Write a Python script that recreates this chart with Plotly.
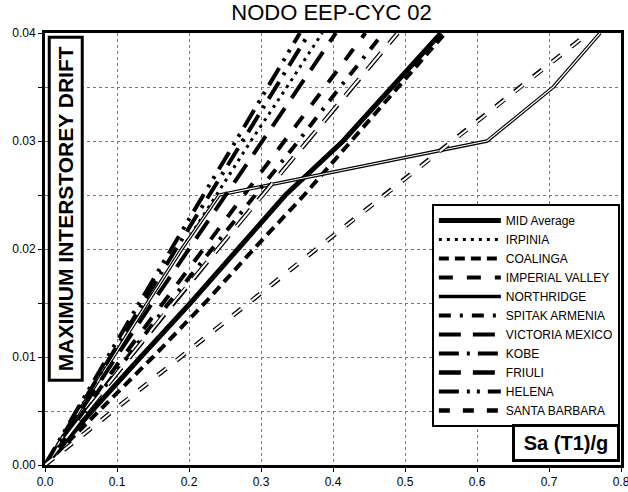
import plotly.graph_objects as go

# Drift levels (y) and spectral acceleration Sa(T1)/g (x) for each record
drift = [0, 0.005, 0.01, 0.015, 0.02, 0.025, 0.03, 0.035, 0.04]

sa_mid_average = [0, 0.065, 0.133, 0.202, 0.268, 0.334, 0.414, 0.482, 0.55]
sa_irpinia = [0, 0.046, 0.094, 0.142, 0.19, 0.238, 0.286, 0.336, 0.385]
sa_coalinga = [0, 0.075, 0.15, 0.222, 0.29, 0.36, 0.425, 0.49, 0.556]
sa_imperial_valley = [0, 0.054, 0.108, 0.164, 0.22, 0.276, 0.332, 0.388, 0.445]
sa_northridge = [0, 0.047, 0.094, 0.142, 0.19, 0.242, 0.614, 0.706, 0.771]
sa_spitak = [0, 0.057, 0.114, 0.172, 0.232, 0.292, 0.352, 0.41, 0.47]
sa_victoria = [0, 0.049, 0.099, 0.149, 0.2, 0.25, 0.302, 0.353, 0.404]
sa_kobe = [0, 0.045, 0.09, 0.136, 0.182, 0.228, 0.274, 0.32, 0.367]
sa_friuli = [0, 0.058, 0.118, 0.178, 0.24, 0.302, 0.364, 0.427, 0.49]
sa_helena = [0, 0.043, 0.087, 0.131, 0.175, 0.22, 0.265, 0.31, 0.354]
sa_santa_barbara = [0, 0.094, 0.189, 0.283, 0.377, 0.472, 0.566, 0.66, 0.755]

x_ticks = [0.0, 0.1, 0.2, 0.3, 0.4, 0.5, 0.6, 0.7, 0.8]
y_ticks = [0.00, 0.01, 0.02, 0.03, 0.04]

FONT = "Arial, Liberation Sans, sans-serif"

# name, values, dash, outer width, inner (white) width or None
series = [
    ("MID Average", sa_mid_average, "solid", 5, None),
    ("IRPINIA", sa_irpinia, "3px,5px", 3, None),
    ("COALINGA", sa_coalinga, "10px,6px", 4, None),
    ("IMPERIAL VALLEY", sa_imperial_valley, "14px,14px", 4, None),
    ("NORTHRIDGE", sa_northridge, "solid", 3.5, 1.2),
    ("SPITAK ARMENIA", sa_spitak, "12px,9px,3px,9px", 4, None),
    ("VICTORIA MEXICO", sa_victoria, "22px,12px", 4, None),
    ("KOBE", sa_kobe, "20px,8px,3px,8px", 4, None),
    ("FRIULI", sa_friuli, "22px,12px", 4.5, 2),
    ("HELENA", sa_helena, "20px,8px,3px,7px,3px,8px", 4, None),
    ("SANTA BARBARA", sa_santa_barbara, "11px,13px", 4.5, 2),
]

fig = go.Figure()
for name, vals, dash, w, inner in series:
    fig.add_trace(go.Scatter(
        x=vals, y=drift, mode="lines", name=name,
        line=dict(color="black", width=w, dash=dash),
        legendgroup=name,
    ))
    if inner is not None:
        fig.add_trace(go.Scatter(
            x=vals, y=drift, mode="lines", name=name,
            line=dict(color="white", width=inner, dash=dash),
            legendgroup=name, showlegend=False, hoverinfo="skip",
        ))

fig.update_layout(
    width=628, height=492,
    margin=dict(l=45, r=7, t=33, b=27, autoexpand=False),
    paper_bgcolor="white", plot_bgcolor="white",
    font=dict(family=FONT, color="black", size=12),
    title=dict(text="NODO EEP-CYC 02", x=0.528, xanchor="center",
               y=0.974, yanchor="middle", automargin=False,
               font=dict(family=FONT, size=22, color="black")),
    showlegend=True,
    legend=dict(x=0.998, xanchor="right", y=0.604, yanchor="top",
                bgcolor="white", bordercolor="black", borderwidth=2,
                font=dict(family=FONT, size=12, color="black"),
                tracegroupgap=0, itemwidth=62),
)

fig.update_xaxes(
    range=[0, 0.8], tickvals=x_ticks, tickformat=".1f", automargin=False,
    ticklabeloverflow="allow",
    ticks="outside", ticklen=4, tickcolor="black",
    showline=True, linewidth=3, linecolor="black", mirror=True,
    showgrid=True, gridcolor="#777777", griddash="dot", gridwidth=1,
    zeroline=False, tickfont=dict(family=FONT, size=12, color="black"),
)
fig.update_yaxes(
    range=[0, 0.04], tickvals=y_ticks, tickformat=".2f", automargin=False,
    ticklabeloverflow="allow",
    ticks="outside", ticklen=4, tickcolor="black",
    showline=True, linewidth=3, linecolor="black", mirror=True,
    showgrid=True, gridcolor="#777777", griddash="dot", gridwidth=1,
    zeroline=False, tickfont=dict(family=FONT, size=12, color="black"),
    minor=dict(dtick=0.005, ticks="outside", ticklen=4, tickcolor="black",
               showgrid=True, gridcolor="#777777", griddash="dot"),
)

fig.add_annotation(
    text="<b>MAXIMUM INTERSTOREY DRIFT</b>", textangle=-90,
    xref="paper", yref="paper", x=0.036, y=0.5926,
    xanchor="center", yanchor="middle", showarrow=False,
    width=338, height=28,
    font=dict(family=FONT, size=21, color="black"),
    bgcolor="white", bordercolor="black", borderwidth=3, borderpad=1,
)
fig.add_annotation(
    text="<b>Sa (T1)/g</b>",
    xref="paper", yref="paper", x=0.905, y=0.0498,
    xanchor="center", yanchor="middle", showarrow=False,
    width=100, height=30,
    font=dict(family=FONT, size=20, color="black"),
    bgcolor="white", bordercolor="black", borderwidth=3, borderpad=1,
)

fig.write_html("out.html")
